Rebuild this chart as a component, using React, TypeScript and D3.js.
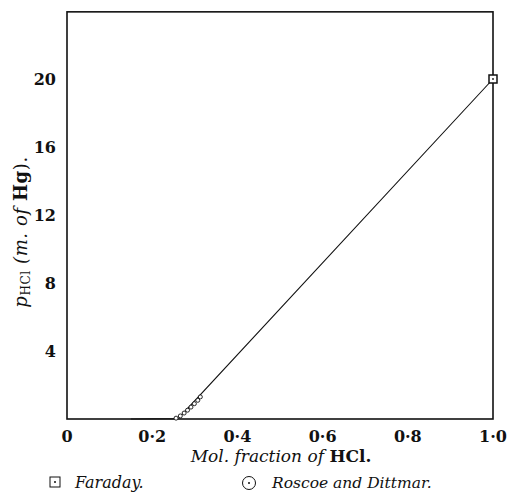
import React from 'react'
import * as d3 from 'd3'

const xTicks = [0, 0.2, 0.4, 0.6, 0.8, 1.0]
const xTickLabels = ['0', '0·2', '0·4', '0·6', '0·8', '1·0']
const yTicks = [4, 8, 12, 16, 20]

// line through the data
const lineX = [0.15, 0.255, 0.262, 1.0]
const lineY = [0, 0.02, 0.05, 20]

// Roscoe and Dittmar
const roscoeX = [0.256, 0.266, 0.275, 0.283, 0.291, 0.299, 0.307, 0.313]
const roscoeY = [0.05, 0.18, 0.35, 0.52, 0.7, 0.9, 1.1, 1.3]

// Faraday
const faradayX = [1.0]
const faradayY = [20]

const W = 509
const H = 500
const font = '"DejaVu Serif", "Liberation Serif", serif'

function App() {
    const x = d3.scaleLinear().domain([0, 1]).range([67, 493])
    const y = d3.scaleLinear().domain([0, 20]).range([419, 79])
    const top = y(23.95)

    const line = d3.line<number>().x((d, i) => x(lineX[i])).y((d, i) => y(lineY[i]))(lineX)

    return (
        <svg width={W} height={H} style={{ position: 'absolute', left: 0, top: 0, background: 'white' }}>
            <rect x={x(0)} y={top} width={x(1) - x(0)} height={y(0) - top}
                fill="none" stroke="#111" strokeWidth={1.6} />
            <path d={line || ''} fill="none" stroke="#111" strokeWidth={1.1} />
            {roscoeX.map((v, i) => (
                <circle key={i} cx={x(v)} cy={y(roscoeY[i])} r={2} fill="white" stroke="#111" strokeWidth={0.9} />
            ))}
            {faradayX.map((v, i) => (
                <g key={i}>
                    <rect x={x(v) - 4} y={y(faradayY[i]) - 4} width={8} height={8} fill="white" stroke="#111" strokeWidth={1.5} />
                    <circle cx={x(v)} cy={y(faradayY[i])} r={0.9} fill="#111" />
                </g>
            ))}
            {xTicks.map((t, i) => (
                <text key={t} x={x(t)} y={442} textAnchor="middle" fontFamily={font}
                    fontWeight="bold" fontSize={16} fill="#111">{xTickLabels[i]}</text>
            ))}
            {yTicks.map(t => (
                <text key={t} x={56} y={y(t) + 6} textAnchor="end" fontFamily={font}
                    fontWeight="bold" fontSize={16} fill="#111">{t}</text>
            ))}
            <text x={281} y={462} textAnchor="middle" fontFamily={font} fontSize={17} fill="#111">
                <tspan fontStyle="italic">Mol. fraction of </tspan>
                <tspan fontWeight="bold">HCl.</tspan>
            </text>
            <text transform="translate(27,232) rotate(-90)" textAnchor="middle" fontFamily={font} fontSize={18}
                letterSpacing={0.6} fill="#111">
                <tspan fontStyle="italic">p</tspan>
                <tspan fontSize={12} dy={3}>HCl</tspan>
                <tspan dy={-3} fontStyle="italic"> (m. of </tspan>
                <tspan fontWeight="bold">Hg</tspan>
                <tspan>).</tspan>
            </text>
            <g>
                <rect x={50} y={477} width={10} height={10} fill="none" stroke="#111" strokeWidth={1} />
                <circle cx={55} cy={482} r={1} fill="#111" />
                <text x={75} y={488} fontFamily={font} fontStyle="italic" fontSize={16} fill="#111">Faraday.</text>
                <circle cx={249} cy={483} r={6.5} fill="none" stroke="#111" strokeWidth={1} />
                <circle cx={249} cy={483} r={1} fill="#111" />
                <text x={272} y={488} fontFamily={font} fontStyle="italic" fontSize={15.5} fill="#111">Roscoe and Dittmar.</text>
            </g>
        </svg>
    )
}

export default App
